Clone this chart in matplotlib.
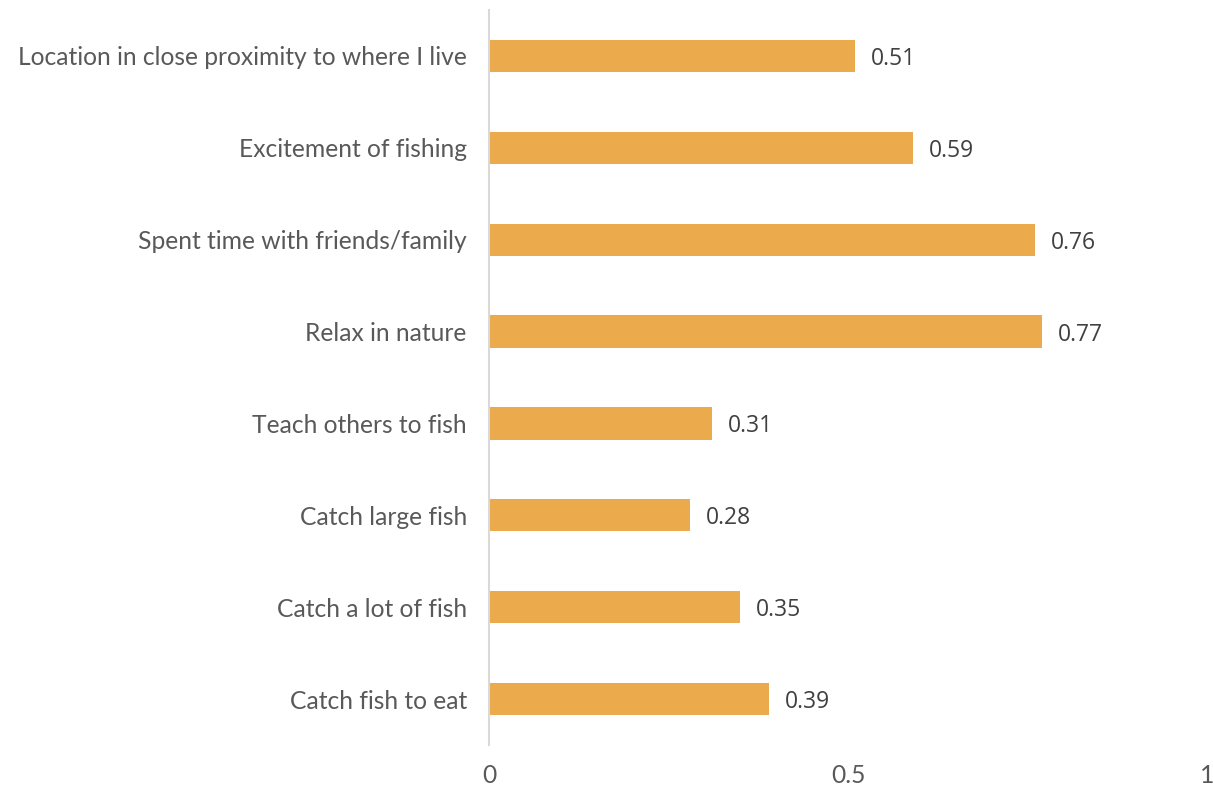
import matplotlib
matplotlib.use("Agg")
import matplotlib.pyplot as plt

categories = [
    "Location in close proximity to where I live",
    "Excitement of fishing",
    "Spent time with friends/family",
    "Relax in nature",
    "Teach others to fish",
    "Catch large fish",
    "Catch a lot of fish",
    "Catch fish to eat",
]
values = [0.51, 0.59, 0.76, 0.77, 0.31, 0.28, 0.35, 0.39]
xticks = [0, 0.5, 1]
xtick_labels = ["0", "0.5", "1"]

BAR = "#EBAA4C"
TEXT = "#595959"

fig = plt.figure(figsize=(12.13, 7.87), dpi=100)
ax = fig.add_axes([489 / 1213, 1 - 745 / 787, (1207 - 489) / 1213, (745 - 10) / 787])

pos = list(range(len(categories)))
ax.barh(pos, values, height=0.35, color=BAR)
ax.set_ylim(len(categories) - 0.5, -0.5)
ax.set_xlim(0, 1)

for y, v in zip(pos, values):
    ax.text(v + 0.022, y, f"{v:.2f}", va="center_baseline", ha="left",
            fontsize=16.5, color="#404040", family="Open Sans")

ax.set_yticks(pos)
ax.set_yticklabels(categories, family="Lato", fontsize=17.7, color=TEXT)
ax.set_xticks(xticks)
ax.set_xticklabels(xtick_labels, family="Lato", fontsize=17.7, color=TEXT)
ax.tick_params(axis="both", length=0)
ax.tick_params(axis="y", pad=16)
ax.tick_params(axis="x", pad=14)

for s in ["top", "right", "bottom"]:
    ax.spines[s].set_visible(False)
ax.spines["left"].set_color("#D9D9D9")
ax.spines["left"].set_linewidth(1.5)

fig.savefig("out.png", dpi=100)
